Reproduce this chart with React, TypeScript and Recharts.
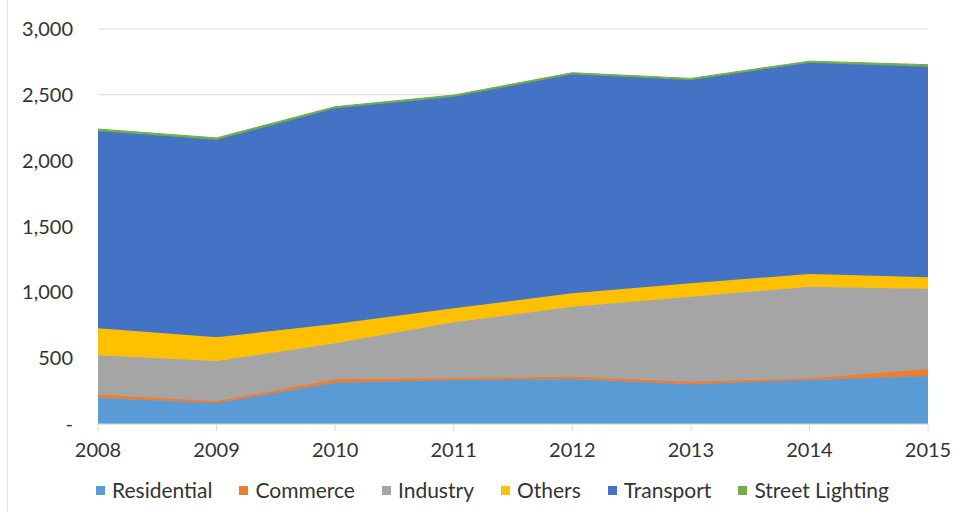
import React from 'react';
import { AreaChart, Area, XAxis, YAxis, CartesianGrid, Legend } from 'recharts';

const years = ['2008', '2009', '2010', '2011', '2012', '2013', '2014', '2015'];
const residential = [200, 160, 314, 334, 342, 301, 335, 365];
const commerce = [25, 15, 25, 15, 18, 20, 12, 53];
const industry = [297, 303, 274, 423, 531, 646, 696, 610];
const others = [205, 180, 147, 107, 102, 102, 96, 86];
const transport = [1498, 1500, 1638, 1607, 1663, 1544, 1605, 1600];
const streetLighting = [15, 15, 12, 12, 12, 12, 12, 15];
const yTicks = [0, 500, 1000, 1500, 2000, 2500, 3000];

const seriesDefs = [
  { key: 'Residential', values: residential, color: '#5B9BD5' },
  { key: 'Commerce', values: commerce, color: '#ED7D31' },
  { key: 'Industry', values: industry, color: '#A5A5A5' },
  { key: 'Others', values: others, color: '#FFC000' },
  { key: 'Transport', values: transport, color: '#4472C4' },
  { key: 'Street Lighting', values: streetLighting, color: '#70AD47' },
];

const data = years.map((y, i) => {
  const row: Record<string, string | number> = { year: y };
  seriesDefs.forEach((s) => {
    row[s.key] = s.values[i];
  });
  return row;
});

const FONT = 'Lato, "Open Sans", sans-serif';
const TEXT = '#333333';

const fmt = (v: number) => (v === 0 ? '-' : v.toLocaleString('en-US'));

const LegendContent = () => (
  <div
    style={{
      display: 'flex',
      justifyContent: 'flex-start',
      paddingLeft: 96,
      fontFamily: FONT,
      fontSize: 21,
      color: TEXT,
      lineHeight: '24px',
    }}
  >
    {seriesDefs.map((s, i) => (
      <div
        key={s.key}
        style={{ display: 'flex', alignItems: 'center', marginRight: i === seriesDefs.length - 1 ? 0 : 27 }}
      >
        <span
          style={{
            display: 'inline-block',
            width: 9,
            height: 9,
            background: s.color,
            marginRight: 7,
          }}
        />
        <span>{s.key}</span>
      </div>
    ))}
  </div>
);

export default function App() {
  return (
    <div
      style={{
        position: 'absolute',
        left: 0,
        top: 0,
        width: 954,
        height: 512,
        background: '#fff',
      }}
    >
      <div style={{ position: 'absolute', left: 7, top: 0, width: 1, height: 512, background: '#e6e6e6' }} />
      <AreaChart
        width={954}
        height={512}
        data={data}
        margin={{ top: 29, right: 26, left: 8, bottom: 0 }}
      >
        <CartesianGrid vertical={false} stroke="#d9d9d9" />
        <XAxis
          dataKey="year"
          axisLine={{ stroke: '#d9d9d9' }}
          tickLine={{ stroke: '#d9d9d9' }}
          tickSize={7}
          height={40}
          tick={{ fill: TEXT, fontSize: 20, fontFamily: FONT }}
          tickMargin={12}
        />
        <YAxis
          width={90}
          domain={[0, 3000]}
          ticks={yTicks}
          tickFormatter={fmt}
          axisLine={false}
          tickLine={false}
          tick={{ fill: TEXT, fontSize: 20, fontFamily: FONT }}
          tickMargin={19}
          interval={0}
        />
        <Legend
          verticalAlign="bottom"
          height={48}
          content={<LegendContent />}
          wrapperStyle={{ left: 0, width: 954, top: 478 }}
        />
        {seriesDefs.map((s) => (
          <Area
            key={s.key}
            type="linear"
            dataKey={s.key}
            stackId="1"
            stroke={s.color}
            strokeWidth={1}
            fill={s.color}
            fillOpacity={1}
            isAnimationActive={false}
            dot={false}
            activeDot={false}
          />
        ))}
      </AreaChart>
    </div>
  );
}
